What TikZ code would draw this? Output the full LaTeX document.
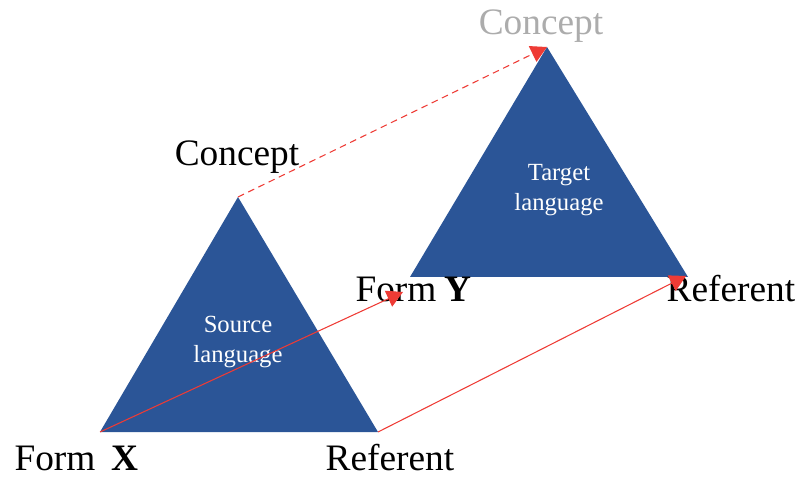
\documentclass[tikz,border=0pt]{standalone}
\usepackage{fontspec}
\setmainfont{Liberation Serif}
\usetikzlibrary{positioning,arrows.meta}

\definecolor{triblue}{HTML}{2B5597}
\definecolor{linkred}{HTML}{EE3B35}

\tikzset{
	tri/.style={fill=triblue, draw=none},
	lbl/.style={inner sep=0pt, font=\fontsize{28}{30}\selectfont},
	inlbl/.style={text=white, align=center, font=\fontsize{18.5}{22}\selectfont},
	link/.style={draw=linkred, line width=0.8pt, -{Triangle[length=12pt,width=13pt]}},
	dashlink/.style={link, dash pattern=on 5pt off 3.5pt}
}

\begin{document}
\begin{tikzpicture}[x=0.75pt, y=-0.75pt]
	\useasboundingbox (0,0) rectangle (800,477);
	
	%vertices
	\coordinate (sC) at (238,197);
	\coordinate (sF) at (100,432);
	\coordinate (sR) at (378,432);
	
	\coordinate (tC) at (547,47);
	\coordinate (tF) at (410,277);
	\coordinate (tR) at (688,277);
	
	%arrow ends
	\coordinate (tFend) at (403,292);
	\coordinate (tRend) at (686,276);
	
	%triangles
	\fill[tri] (sC) -- (sF) -- (sR) -- cycle;
	\fill[tri] (tC) -- (tF) -- (tR) -- cycle;
	
	%nodes
	\node (srcLang)[inlbl] at (238,342)   {Source\\language};
	\node (tgtLang)[inlbl] at (559,190)   {Target\\language};
	
	\node (srcConcept)[lbl] at (237,157)  {Concept};
	\node (tgtConcept)[lbl, text=gray!65] at (541,26) {Concept};
	
	\node (formX)[lbl] at (55,458)        {Form};
	\node (X)[lbl, right=12pt of formX]   {\textbf{X}};
	\node (srcRef)[lbl] at (390,458)      {Referent};
	
	\node (formY)[lbl] at (396,289)       {Form};
	\node (Y)[lbl, right=6pt of formY]    {\textbf{Y}};
	\node (tgtRef)[lbl] at (731,289)      {Referent};
	
	%links
	\draw[dashlink] (sC) -- (tC);
	\draw[link] (sF) -- (tFend);
	\draw[link] (sR) -- (tRend);
\end{tikzpicture}
\end{document}
